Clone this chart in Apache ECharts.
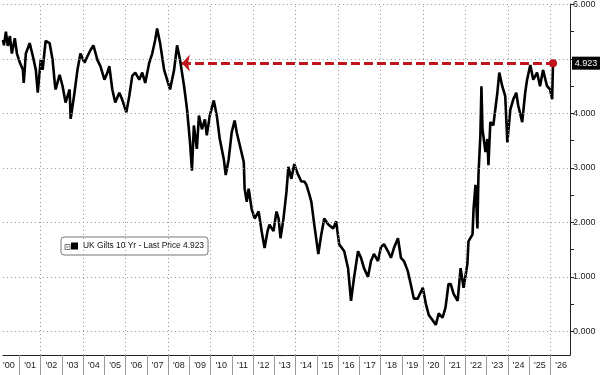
<!DOCTYPE html>
<html>
<head>
<meta charset="utf-8">
<script src="https://cdn.jsdelivr.net/npm/echarts@6/dist/echarts.min.js"></script>
<style>
html,body{margin:0;padding:0;background:#fff;}
#chart{width:600px;height:375px;}
</style>
</head>
<body>
<div id="chart"></div>
<script>
// Decimal-year dates
const dates = [
2000.22,2000.27,2000.36,2000.45,2000.55,2000.64,2000.78,2000.88,2001.02,2001.16,
2001.20,2001.30,2001.48,2001.63,2001.77,2001.86,2002.00,2002.09,2002.23,2002.42,
2002.56,2002.66,2002.70,2002.89,2003.03,2003.17,2003.36,2003.41,2003.59,2003.73,
2003.87,2004.06,2004.20,2004.34,2004.48,2004.67,2004.81,2005.00,2005.14,2005.23,
2005.37,2005.51,2005.70,2005.84,2006.03,2006.17,2006.31,2006.45,2006.64,2006.78,
2006.92,2007.11,2007.25,2007.39,2007.48,2007.62,2007.81,2007.95,2008.09,2008.28,
2008.42,2008.56,2008.75,2008.79,2008.89,2009.03,2009.12,2009.21,2009.35,2009.45,
2009.59,2009.73,2009.82,2009.96,2010.15,2010.29,2010.43,2010.62,2010.71,2010.85,
2010.99,2011.13,2011.23,2011.37,2011.56,2011.60,2011.70,2011.79,2011.93,2012.07,
2012.26,2012.40,2012.54,2012.68,2012.77,2012.96,2013.10,2013.20,2013.29,2013.43,
2013.57,2013.66,2013.80,2013.94,2014.09,2014.27,2014.41,2014.51,2014.65,2014.74,
2014.88,2015.07,2015.21,2015.35,2015.54,2015.77,2015.91,2016.05,2016.29,2016.47,
2016.61,2016.75,2016.94,2017.08,2017.22,2017.41,2017.55,2017.69,2017.88,2018.02,
2018.16,2018.35,2018.49,2018.63,2018.82,2018.96,2019.10,2019.28,2019.42,2019.57,
2019.75,2019.99,2020.13,2020.27,2020.46,2020.60,2020.74,2020.92,2021.06,2021.20,
2021.30,2021.44,2021.63,2021.77,2021.91,2022.09,2022.14,2022.33,2022.38,2022.47,
2022.56,2022.61,2022.70,2022.75,2022.80,2022.94,2023.03,2023.08,2023.17,2023.31,
2023.50,2023.59,2023.73,2023.87,2023.97,2024.11,2024.25,2024.39,2024.48,2024.67,
2024.81,2024.90,2025.05,2025.19,2025.37,2025.51,2025.65,2025.84,2025.98,2026.08,
2026.12
];
// UK Gilts 10 Yr yield (%)
const yields = [
5.35,5.25,5.50,5.24,5.42,5.10,5.38,5.10,4.93,4.80,
4.56,5.10,5.29,5.05,4.80,4.38,4.98,4.80,5.33,5.29,
4.98,4.56,4.44,4.71,4.50,4.20,4.44,3.90,4.38,4.80,
5.10,4.93,5.05,5.16,5.25,4.98,4.87,4.62,4.75,4.87,
4.44,4.20,4.38,4.25,4.02,4.32,4.69,4.75,4.62,4.75,
4.56,4.93,5.10,5.35,5.56,5.29,4.80,4.62,4.44,4.80,
5.25,4.98,4.50,4.38,4.07,3.47,2.95,3.78,3.35,3.96,
3.71,3.89,3.60,3.96,4.24,3.96,3.53,3.16,2.87,3.16,
3.65,3.87,3.65,3.42,3.11,2.62,2.38,2.62,2.25,2.07,
2.20,1.84,1.53,1.84,1.96,1.84,2.20,2.07,1.71,2.07,
2.56,3.02,2.80,3.07,2.90,2.75,2.75,2.69,2.51,2.38,
1.96,1.42,1.78,2.07,1.96,1.89,2.02,1.60,1.47,1.16,
0.56,0.98,1.47,1.35,1.16,1.00,1.29,1.42,1.29,1.55,
1.60,1.47,1.35,1.53,1.71,1.35,1.29,1.11,0.87,0.60,
0.60,0.80,0.51,0.30,0.20,0.12,0.33,0.25,0.44,0.87,
0.87,0.69,0.56,1.16,0.80,1.24,1.65,1.78,2.25,2.69,
1.89,2.87,3.60,4.50,3.71,3.29,3.53,3.05,3.84,3.78,
4.38,4.75,4.50,4.32,3.47,4.07,4.26,4.38,4.15,3.84,
4.38,4.62,4.89,4.62,4.75,4.50,4.80,4.50,4.44,4.26,
4.923
];
const seriesName = 'UK Gilts 10 Yr - Last Price 4.923';
const lastPrice = 4.923;
const refStartDate = 2008.65;   // 2008 level the red arrow points at
const yearLabels = ["'00","'01","'02","'03","'04","'05","'06","'07","'08","'09","'10","'11","'12","'13",
  "'14","'15","'16","'17","'18","'19","'20","'21","'22","'23","'24","'25","'26"];
const yGridValues = [0,1,2,3,4,5,6];
const yLabelValues = [0,1,2,3,4,6];   // 5.000 is covered by the last-price tag
const yMinorTicks = [0,0.5,1,1.5,2,2.5,3,3.5,4,4.5,5,5.5,6];
const gridYears = [2002,2004,2006,2008,2010,2012,2014,2016,2018,2020,2022,2024,2026];

const xMin = 2000.22, xMax = 2026.92;
const yMin = -0.434, yMax = 6.01;
const FONT = 'Liberation Sans, Arial, sans-serif';

const yearStarts = yearLabels.slice(1).map((_, i) => 2001 + i);
const yearMids = yearLabels.map((_, i) => 2000.5 + i);

const chart = echarts.init(document.getElementById('chart'), null, {renderer: 'canvas'});
chart.setOption({
  animation: false,
  backgroundColor: '#fff',
  grid: {left: 0, right: 30, top: 0, bottom: 20, containLabel: false},
  legend: {
    show: true, left: 61, top: 237, data: [seriesName], selectedMode: false,
    icon: 'rect', itemWidth: 7, itemHeight: 7, itemGap: 4,
    borderColor: '#777', borderWidth: 1, borderRadius: 3, backgroundColor: '#fff',
    padding: [5, 4, 5, 10],
    textStyle: {fontSize: 8.4, color: '#111', fontFamily: FONT}
  },
  graphic: [{
    type: 'rect', left: 64.5, top: 244, z: 100,
    shape: {width: 5, height: 5},
    style: {fill: '#fff', stroke: '#777', lineWidth: 1}
  }, {
    type: 'rect', left: 66, top: 246.5, z: 101,
    shape: {width: 2, height: 0.3},
    style: {fill: '#777', stroke: '#777', lineWidth: 0.6}
  }],
  xAxis: {
    type: 'value', min: xMin, max: xMax,
    axisLine: {show: true, onZero: false, lineStyle: {color: '#222', width: 1}},
    axisTick: {show: true, customValues: yearStarts, length: 20, inside: false, lineStyle: {color: '#999'}},
    axisLabel: {
      show: true, customValues: yearMids, margin: 6,
      fontSize: 9, color: '#222', fontFamily: FONT,
      formatter: v => yearLabels[Math.floor(v) - 2000]
    },
    splitLine: {show: false}
  },
  yAxis: {
    type: 'value', position: 'right', min: yMin, max: yMax,
    axisLine: {show: true, onZero: false, lineStyle: {color: '#222', width: 1}},
    axisTick: {show: true, customValues: yMinorTicks, length: 4, lineStyle: {color: '#222'}},
    axisLabel: {
      show: true, customValues: yLabelValues, margin: 3,
      fontSize: 9, color: '#222', fontFamily: FONT,
      formatter: v => v.toFixed(3)
    },
    splitLine: {show: false}
  },
  series: [{
    type: 'line', name: 'grid', data: [], silent: true, z: 1,
    markLine: {
      silent: true, symbol: 'none', animation: false,
      label: {show: false},
      lineStyle: {color: '#999', type: [1, 3], width: 1},
      data: yGridValues.map(v => ({yAxis: v})).concat(gridYears.map(v => ({xAxis: v})))
    }
  }, {
    type: 'line', name: seriesName, z: 3,
    data: dates.map((d, i) => [d, yields[i]]),
    showSymbol: false, symbol: 'none',
    lineStyle: {color: '#000', width: 2.6},
    itemStyle: {color: '#000'},
    markLine: {
      silent: true, animation: false,
      symbol: ['arrow', 'circle'], symbolSize: [13, 8],
      label: {show: false},
      lineStyle: {color: '#c0141c', width: 3, type: [9, 4]},
      itemStyle: {color: '#c0141c'},
      data: [[{coord: [refStartDate, lastPrice]}, {coord: [dates[dates.length - 1], lastPrice]}]]
    },
    markPoint: {
      silent: true, animation: false,
      symbol: 'rect', symbolSize: [28, 13], symbolOffset: [16, 0],
      itemStyle: {color: '#000'},
      label: {show: true, position: 'inside', color: '#fff', fontSize: 9, fontFamily: FONT,
        formatter: () => lastPrice.toFixed(3)},
      data: [{coord: [xMax, lastPrice], value: lastPrice}]
    }
  }]
});
</script>
</body>
</html>
